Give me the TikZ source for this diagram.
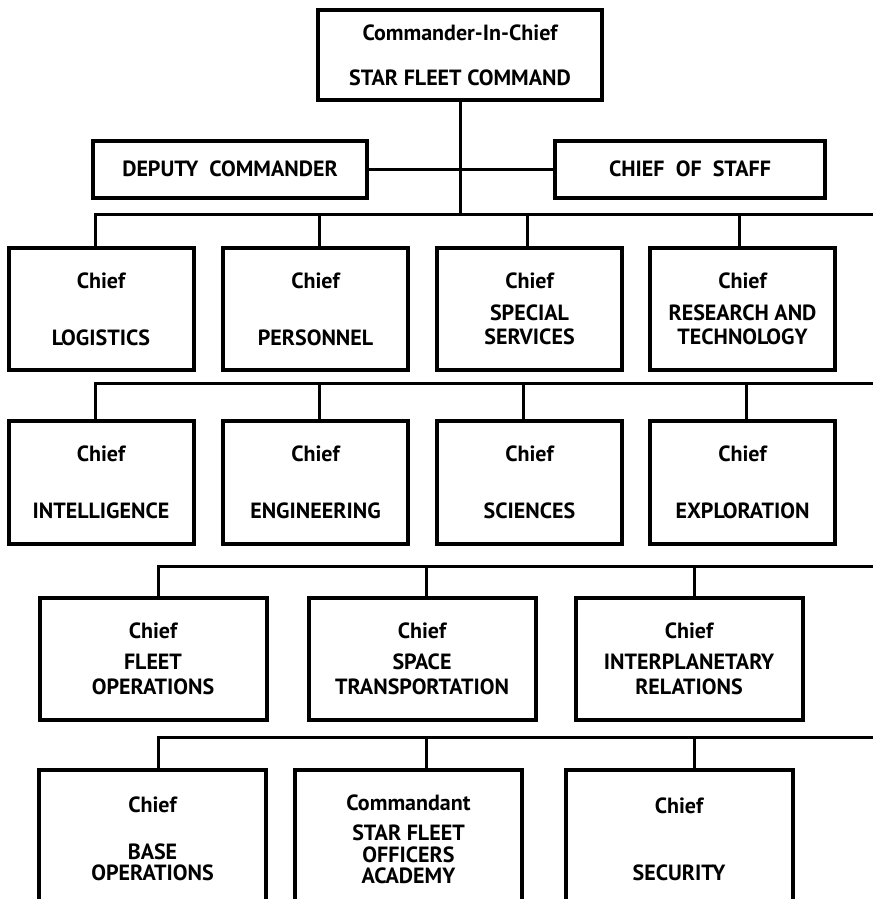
\documentclass[tikz,border=0pt]{standalone}
\usepackage{fontspec}
\setmainfont{PT Sans}
\usepackage{tikz}

\tikzset{
  unit/.style={draw=black, line width=4pt, fill=white, align=center, inner sep=0pt,
    font=\fontsize{22}{24}\selectfont\bfseries},
  link/.style={black, line width=3pt},
}

\begin{document}
\begin{tikzpicture}[x=1pt,y=-1pt]
	\useasboundingbox (0,0) rectangle (873,899);
	% command
	\node[unit, minimum width=284, minimum height=90] (cic) at (460,55) {Commander-In-Chief\\[21pt]STAR FLEET COMMAND};
	\node[unit, minimum width=274, minimum height=57] (dep) at (230,169) {DEPUTY\ \ COMMANDER};
	\node[unit, minimum width=270, minimum height=57] (cos) at (690,169) {CHIEF\ \ OF\ \ STAFF};
	% bus ends at the right margin
	\coordinate (bus1) at (873,214);
	\coordinate (bus2) at (873,383);
	\coordinate (bus3) at (873,566);
	\coordinate (bus4) at (873,737);
	% row 1
	\node[unit, minimum width=185, minimum height=122] (log) at (101,309) {Chief\\[33pt]LOGISTICS};
	\node[unit, minimum width=185, minimum height=122] (per) at (315.5,309) {Chief\\[33pt]PERSONNEL};
	\node[unit, minimum width=185, minimum height=122] (spe) at (529.5,309) {Chief\\[8pt]SPECIAL\\SERVICES};
	\node[unit, minimum width=185, minimum height=122] (rnt) at (742.5,309) {Chief\\[8pt]RESEARCH AND\\TECHNOLOGY};
	% row 2
	\node[unit, minimum width=185, minimum height=123] (int) at (101,482.5) {Chief\\[33pt]INTELLIGENCE};
	\node[unit, minimum width=185, minimum height=123] (eng) at (315.5,482.5) {Chief\\[33pt]ENGINEERING};
	\node[unit, minimum width=185, minimum height=123] (sci) at (529.5,482.5) {Chief\\[33pt]SCIENCES};
	\node[unit, minimum width=185, minimum height=123] (exp) at (742.5,482.5) {Chief\\[33pt]EXPLORATION};
	% row 3
	\node[unit, minimum width=227, minimum height=122] (flo) at (153,659) {Chief\\[7pt]FLEET\\[1pt]OPERATIONS};
	\node[unit, minimum width=227, minimum height=122] (spt) at (422,659) {Chief\\[7pt]SPACE\\[1pt]TRANSPORTATION};
	\node[unit, minimum width=227, minimum height=122] (ipr) at (689,659) {Chief\\[7pt]INTERPLANETARY\\[1pt]RELATIONS};
	% row 4 (runs off the page)
	\node[unit, minimum width=227, minimum height=138] (bop) at (152.5,839) {Chief\\[23pt]BASE\\[-3pt]OPERATIONS};
	\node[unit, minimum width=227, minimum height=138] (sfa) at (408.5,839) {Commandant\\[6pt]STAR FLEET\\[-2pt]OFFICERS\\[-3pt]ACADEMY};
	\node[unit, minimum width=227, minimum height=138] (sec) at (679,839) {Chief\\[43pt]SECURITY};

	% links
	\draw[link] (cic.south) -- (cic.south |- bus1);
	\draw[link] (dep.east) -- (cos.west);
	\draw[link] ([xshift=-6pt]log.north) |- (bus1);
	\draw[link] ([xshift=3.5pt]per.north) -- ([xshift=3.5pt]per.north |- bus1);
	\draw[link] ([xshift=-2.5pt]spe.north) -- ([xshift=-2.5pt]spe.north |- bus1);
	\draw[link] ([xshift=-3.5pt]rnt.north) -- ([xshift=-3.5pt]rnt.north |- bus1);

	\draw[link] ([xshift=-6pt]int.north) |- (bus2);
	\draw[link] ([xshift=3.5pt]eng.north) -- ([xshift=3.5pt]eng.north |- bus2);
	\draw[link] ([xshift=-6.5pt]sci.north) -- ([xshift=-6.5pt]sci.north |- bus2);
	\draw[link] ([xshift=3.5pt]exp.north) -- ([xshift=3.5pt]exp.north |- bus2);

	\draw[link] ([xshift=5pt]flo.north) |- (bus3);
	\draw[link] ([xshift=4pt]spt.north) -- ([xshift=4pt]spt.north |- bus3);
	\draw[link] ([xshift=5pt]ipr.north) -- ([xshift=5pt]ipr.north |- bus3);

	\draw[link] ([xshift=5.5pt]bop.north) |- (bus4);
	\draw[link] ([xshift=17.5pt]sfa.north) -- ([xshift=17.5pt]sfa.north |- bus4);
	\draw[link] ([xshift=15pt]sec.north) -- ([xshift=15pt]sec.north |- bus4);
\end{tikzpicture}
\end{document}
